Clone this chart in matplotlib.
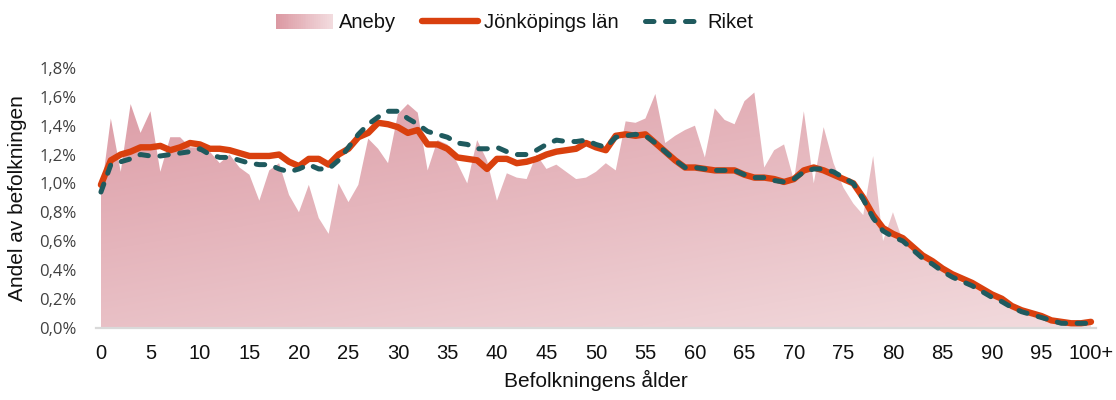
import numpy as np
import matplotlib
matplotlib.use("Agg")
import matplotlib.pyplot as plt
from matplotlib.patches import Rectangle
from matplotlib.lines import Line2D
from matplotlib.ticker import FuncFormatter

plt.rcParams['font.family'] = ['Liberation Sans', 'DejaVu Sans']

# Data: andel av befolkningen (%) per ålder 0..100+
ages = list(range(0, 101))
aneby = [0.92, 1.45, 1.08, 1.55, 1.35, 1.50, 1.08, 1.32, 1.32, 1.25,
         1.25, 1.22, 1.14, 1.20, 1.11, 1.06, 0.88, 1.09, 1.14, 0.92,
         0.80, 0.99, 0.76, 0.65, 1.00, 0.87, 0.99, 1.31, 1.24, 1.14,
         1.48, 1.55, 1.49, 1.09, 1.30, 1.27, 1.14, 1.00, 1.30, 1.16,
         0.88, 1.07, 1.04, 1.03, 1.20, 1.10, 1.13, 1.08, 1.03, 1.04,
         1.08, 1.14, 1.09, 1.43, 1.42, 1.45, 1.62, 1.28, 1.33, 1.37,
         1.40, 1.18, 1.52, 1.44, 1.41, 1.57, 1.63, 1.11, 1.23, 1.27,
         1.02, 1.50, 1.00, 1.39, 1.14, 0.97, 0.86, 0.78, 1.19, 0.60,
         0.80, 0.60, 0.55, 0.48, 0.44, 0.39, 0.35, 0.31, 0.29, 0.25,
         0.21, 0.18, 0.13, 0.10, 0.08, 0.06, 0.04, 0.03, 0.02, 0.02, 0.03]
jonkoping = [0.99, 1.16, 1.20, 1.22, 1.25, 1.25, 1.26, 1.23, 1.25, 1.28,
             1.27, 1.24, 1.24, 1.23, 1.21, 1.19, 1.19, 1.19, 1.20, 1.15,
             1.12, 1.17, 1.17, 1.13, 1.20, 1.24, 1.32, 1.35, 1.42, 1.41,
             1.39, 1.35, 1.37, 1.27, 1.27, 1.24, 1.18, 1.17, 1.16, 1.10,
             1.17, 1.17, 1.14, 1.15, 1.17, 1.20, 1.22, 1.23, 1.24, 1.28,
             1.25, 1.23, 1.33, 1.34, 1.33, 1.34, 1.28, 1.22, 1.16, 1.11,
             1.11, 1.10, 1.09, 1.09, 1.09, 1.06, 1.04, 1.04, 1.03, 1.01,
             1.03, 1.09, 1.11, 1.09, 1.06, 1.03, 1.00, 0.90, 0.78, 0.69,
             0.65, 0.62, 0.56, 0.50, 0.46, 0.41, 0.37, 0.34, 0.31, 0.27,
             0.23, 0.20, 0.15, 0.12, 0.10, 0.08, 0.05, 0.04, 0.03, 0.03, 0.04]
riket = [0.94, 1.13, 1.15, 1.17, 1.20, 1.19, 1.19, 1.20, 1.21, 1.22,
         1.24, 1.20, 1.18, 1.18, 1.16, 1.14, 1.13, 1.13, 1.10, 1.08,
         1.10, 1.13, 1.10, 1.10, 1.16, 1.25, 1.34, 1.41, 1.46, 1.50,
         1.50, 1.45, 1.41, 1.36, 1.34, 1.32, 1.28, 1.27, 1.24, 1.24,
         1.25, 1.22, 1.20, 1.20, 1.23, 1.27, 1.30, 1.29, 1.29, 1.30,
         1.27, 1.25, 1.32, 1.33, 1.34, 1.33, 1.28, 1.22, 1.16, 1.11,
         1.11, 1.10, 1.09, 1.09, 1.09, 1.06, 1.04, 1.04, 1.02, 1.01,
         1.03, 1.08, 1.10, 1.10, 1.08, 1.04, 1.00, 0.89, 0.76, 0.67,
         0.63, 0.60, 0.54, 0.48, 0.44, 0.39, 0.35, 0.32, 0.29, 0.25,
         0.21, 0.18, 0.14, 0.11, 0.09, 0.07, 0.05, 0.03, 0.03, 0.03, 0.03]
xtick_pos = list(range(0, 101, 5))
xtick_labels = [str(v) for v in range(0, 100, 5)] + ['100+']

RED = '#d9400e'
TEAL = '#1f5a5e'
C_DARK = np.array([0.86, 0.60, 0.64])
C_LIGHT = np.array([0.95, 0.86, 0.87])
TXT = '#111111'
DASH = (0, (1.7, 2.3))

fig = plt.figure(figsize=(11.16, 4.0), dpi=100)
ax = fig.add_axes([0.086, 0.181, 0.896, 0.649])

x0, x1 = -0.5, 100.5
y0, y1 = 0, 1.8

# gradient area for Aneby
poly = ax.fill_between(ages, 0, aneby, facecolor='none', edgecolor='none')
gx, gy = np.meshgrid(np.linspace(0, 1, 300), np.linspace(1, 0, 200))
t = np.clip(0.6 * (1 - gy) + 0.4 * gx, 0, 1)[..., None]
grad = C_DARK * (1 - t) + C_LIGHT * t
img = ax.imshow(grad, extent=[0, 100, y0, y1], aspect='auto', zorder=1, origin='upper')
img.set_clip_path(poly.get_paths()[0], transform=ax.transData)

ax.plot(ages, jonkoping, color=RED, lw=4.6, solid_capstyle='round',
        solid_joinstyle='round', zorder=3)
ax.plot(ages, riket, color=TEAL, lw=3.6, linestyle=DASH,
        dash_capstyle='round', zorder=4)

ax.set_xlim(x0, x1)
ax.set_ylim(y0, y1)
ax.set_xticks(xtick_pos)
ax.set_xticklabels(xtick_labels)
ax.set_yticks(np.arange(0, 1.81, 0.2))
ax.yaxis.set_major_formatter(FuncFormatter(lambda v, p: f"{v:.1f}%".replace('.', ',')))
ax.tick_params(axis='both', length=0)
ax.tick_params(axis='x', pad=12, labelsize=14.5, labelcolor=TXT)
ax.tick_params(axis='y', pad=14, labelsize=12, labelcolor='#404040')
for lab in ax.get_yticklabels():
    lab.set_fontfamily(['Open Sans', 'DejaVu Sans'])
for s in ['top', 'right', 'left']:
    ax.spines[s].set_visible(False)
ax.spines['bottom'].set_color('#d9d9d9')
ax.spines['bottom'].set_linewidth(1.6)
ax.spines['bottom'].set_zorder(5)

ax.set_xlabel('Befolkningens ålder', fontsize=15, color=TXT, labelpad=5)
ax.set_ylabel('Andel av befolkningen', fontsize=15, color=TXT, labelpad=9)


class GradientHandle:
    def legend_artist(self, legend, orig_handle, fontsize, handlebox):
        w, h = handlebox.width, handlebox.height
        n = 30
        for i in range(n):
            f = i / (n - 1)
            c = C_DARK * (1 - f) + C_LIGHT * f
            r = Rectangle((handlebox.xdescent + w * i / n, handlebox.ydescent),
                          w / n + 0.3, h, facecolor=c, edgecolor='none',
                          transform=handlebox.get_transform())
            handlebox.add_artist(r)
        return r


aneby_handle = Rectangle((0, 0), 1, 1)
handles = [aneby_handle,
           Line2D([], [], color=RED, lw=4.6, solid_capstyle='round'),
           Line2D([], [], color=TEAL, lw=3.6, linestyle=DASH, dash_capstyle='round')]
fig.legend(handles, ['Aneby', 'Jönköpings län', 'Riket'], loc='center',
           bbox_to_anchor=(0.4615, 0.9425), ncol=3, frameon=False, fontsize=14.5,
           handlelength=2.8, columnspacing=1.3, handletextpad=0.3,
           handler_map={aneby_handle: GradientHandle()}, labelcolor=TXT)

fig.savefig('out.png', dpi=100)
